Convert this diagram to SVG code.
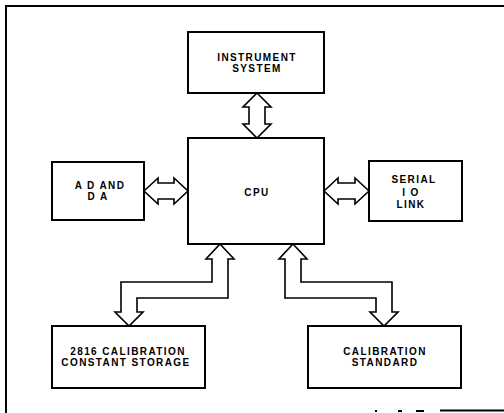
<svg xmlns="http://www.w3.org/2000/svg" width="504" height="413" viewBox="0 0 504 413">
<style>
.box{fill:#fff;stroke:#000;stroke-width:2}
.arr{fill:#fff;stroke:#000;stroke-width:1.6;stroke-linejoin:miter}
.frame{stroke:#000;stroke-width:2;fill:none}
text{font-family:"Liberation Sans",Arial,sans-serif;font-weight:bold;font-size:10px;letter-spacing:1.4px;text-anchor:middle;fill:#000}
</style>
<rect width="504" height="413" fill="#fff"/>
<g id="frame">
<path class="frame" d="M5,6 H504 M6,5 V413"/>
<path class="frame" d="M440,410.5 H504" stroke-width="2.5"/>
<path class="frame" d="M375,411 h2 M398,411 h4 M416,411 h8" stroke-width="1.5"/>
</g>
<g id="connectors">
<path class="arr" d="M257,93 L271,107 L265,107 L265,124 L271,124 L257,138 L243,124 L249,124 L249,107 L243,107 Z"/>
<path class="arr" d="M144,191 L158,178 L158,183 L174,183 L174,178 L188,191 L174,204 L174,199 L158,199 L158,204 Z"/>
<path class="arr" d="M324,191 L338,178 L338,183 L355,183 L355,178 L369,191 L355,204 L355,199 L338,199 L338,204 Z"/>
<path class="arr" d="M220,244 L234,259 L228,259 L228,298 L137,298 L137,312 L143,312 L129,326 L115,312 L121,312 L121,282 L212,282 L212,259 L206,259 Z"/>
<path class="arr" d="M293,244 L307,259 L301,259 L301,282 L392,282 L392,312 L398,312 L384,326 L370,312 L376,312 L376,298 L285,298 L285,259 L279,259 Z"/>
</g>
<g id="instrument">
<rect class="box" x="188" y="32" width="136" height="61"/>
<text x="257" y="61">INSTRUMENT</text>
<text x="257" y="72">SYSTEM</text>
</g>
<g id="cpu">
<rect class="box" x="188" y="138" width="136" height="106"/>
<text x="257" y="196">CPU</text>
</g>
<g id="adda">
<rect class="box" x="52" y="162" width="92" height="58"/>
<text x="100" y="189">A D AND</text>
<text x="98" y="200">D A</text>
</g>
<g id="serial">
<rect class="box" x="369" y="161" width="93" height="60"/>
<text x="414" y="183">SERIAL</text>
<text x="411" y="196">I O</text>
<text x="411" y="208">LINK</text>
</g>
<g id="storage">
<rect class="box" x="52" y="326" width="153" height="62"/>
<text x="128" y="355">2816 CALIBRATION</text>
<text x="126" y="366">CONSTANT STORAGE</text>
</g>
<g id="standard">
<rect class="box" x="308" y="326" width="153" height="62"/>
<text x="385" y="355">CALIBRATION</text>
<text x="385" y="366">STANDARD</text>
</g>
</svg>
